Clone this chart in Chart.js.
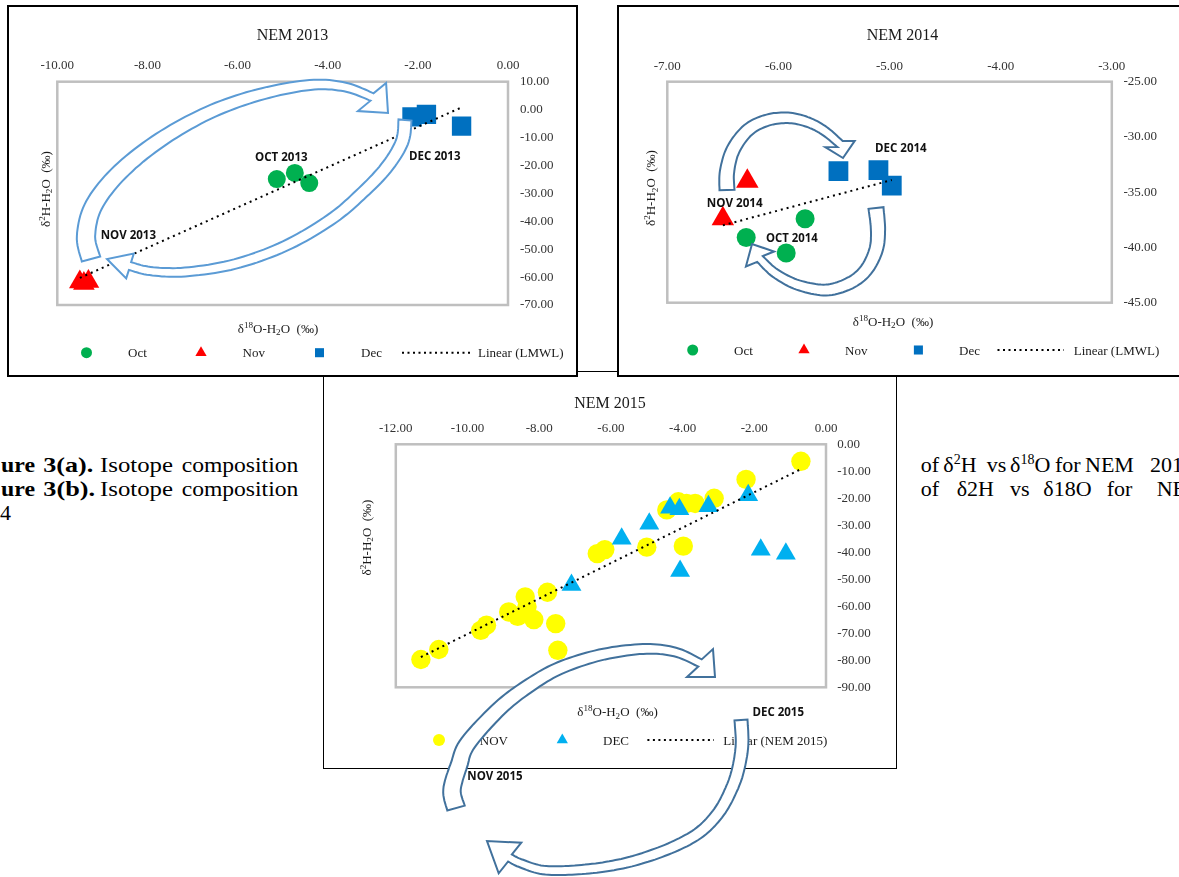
<!DOCTYPE html>
<html>
<head>
<meta charset="utf-8">
<script src="https://cdn.jsdelivr.net/npm/chart.js@4.4.0/dist/chart.umd.min.js"></script>
<style>
  html, body { margin: 0; padding: 0; background: #fff; }
  body { width: 1179px; height: 877px; overflow: hidden; position: relative; }
  .box { position: absolute; background: #fff; box-sizing: border-box; border: 2px solid #000; }
  #box1 { left: 7px; top: 5px; width: 571px; height: 372px; z-index: 2; }
  #box2 { left: 617px; top: 5px; width: 571px; height: 372px; z-index: 2; }
  #box3 { left: 323px; top: 371px; width: 574px; height: 398px; z-index: 1; border-width: 1px; }
  canvas { display: block; }
  svg { position: absolute; left: 0; top: 0; }
  #under { z-index: 0; }
  #over { z-index: 3; pointer-events: none; }
</style>
</head>
<body>
<svg id="under" width="1179" height="877"></svg>
<div class="box" id="box1"><canvas id="nem2013" width="567" height="368"></canvas></div>
<div class="box" id="box2"><canvas id="nem2014" width="567" height="368"></canvas></div>
<div class="box" id="box3"><canvas id="nem2015" width="572" height="396"></canvas></div>
<svg id="over" width="1179" height="877"></svg>
<script>
// NEM 2013 values
const oct2013X = [-5.13, -4.73, -4.41];
const oct2013Y = [-24.9, -22.7, -26.3];
const nov2013X = [-9.50, -9.41, -9.31];
const nov2013Y = [-61.8, -62.3, -61.6];
const dec2013X = [-2.13, -1.81, -1.03];
const dec2013Y = [-2.6, -1.7, -5.9];
const lmwl2013X = [-9.50, -1.03];
const lmwl2013Y = [-60.3, 0.8];
const ticks2013X = [-10, -8, -6, -4, -2, 0];
const ticks2013Y = [10, 0, -10, -20, -30, -40, -50, -60, -70];
const legend2013 = ["Oct", "Nov", "Dec", "Linear (LMWL)"];

// NEM 2014
const oct2014X = [-5.76, -6.29, -5.93];
const oct2014Y = [-37.4, -39.1, -40.5];
const nov2014X = [-6.28, -6.50];
const nov2014Y = [-34.0, -37.4];
const dec2014X = [-5.46, -5.10, -4.98];
const dec2014Y = [-33.1, -33.0, -34.4];
const lmwl2014X = [-6.50, -4.98];
const lmwl2014Y = [-38.0, -33.9];
const ticks2014X = [-7, -6, -5, -4, -3];
const ticks2014Y = [-25, -30, -35, -40, -45];
const legend2014 = ["Oct", "Nov", "Dec", "Linear (LMWL)"];

// NEM 2015
const nov2015X = [-0.70, -2.23, -4.44, -4.12, -3.89, -3.65, -3.12, -5.00, -3.98, -6.38, -6.17,
  -7.77, -8.39, -8.34, -8.85, -8.60, -8.15, -7.54, -9.47, -9.63, -7.48, -10.80, -11.30];
const nov2015Y = [-6.3, -13.0, -24.3, -21.3, -21.9, -21.9, -20.0, -38.1, -37.7, -40.5, -39.0,
  -54.8, -56.5, -60.2, -62.1, -63.7, -64.9, -66.4, -67.0, -68.9, -76.3, -76.0, -79.7];
const dec2015X = [-4.35, -4.09, -3.28, -2.17, -4.93, -5.70, -7.10, -4.07, -1.82, -1.12];
const dec2015Y = [-23.5, -24.1, -22.9, -18.9, -29.4, -35.0, -52.1, -46.9, -39.1, -40.5];
const lin2015X = [-11.30, -0.70];
const lin2015Y = [-78.8, -9.2];
const ticks2015X = [-12, -10, -8, -6, -4, -2, 0];
const ticks2015Y = [0, -10, -20, -30, -40, -50, -60, -70, -80, -90];
const legend2015 = ["NOV", "DEC", "Linear (NEM 2015)"];

const GREEN = "#00B050", RED = "#FF0000", BLUE = "#0070C0", YELLOW = "#FFFF00", CYAN = "#00B0F0";
const SERIF = "Liberation Serif";

function pts(xs, ys) {
  return xs.map((x, i) => ({ x: x, y: ys[i] }));
}

function pointSet(label, xs, ys, style, color, r, order) {
  return {
    label: label, data: pts(xs, ys), pointStyle: style,
    backgroundColor: color, borderColor: color, pointRadius: r,
    pointBorderWidth: 0, borderWidth: 0, showLine: false, order: order
  };
}

function trendSet(label, xs, ys) {
  return {
    label: label, data: pts(xs, ys), showLine: true, borderColor: "#000",
    borderWidth: 2, borderDash: [2, 4], pointRadius: 0, fill: false, order: 0
  };
}

// draw text with super/subscripts, centred on x
function rich(ctx, parts, x, y, size) {
  let w = 0;
  parts.forEach(p => {
    ctx.font = (p[1] ? size * 0.7 : size) + "px '" + SERIF + "'";
    p.w = ctx.measureText(p[0]).width;
    w += p.w;
  });
  let cx = x - w / 2;
  parts.forEach(p => {
    ctx.font = (p[1] ? size * 0.7 : size) + "px '" + SERIF + "'";
    const dy = p[1] === "sup" ? -size * 0.38 : p[1] === "sub" ? size * 0.22 : 0;
    ctx.fillText(p[0], cx, y + size * 0.35 + dy);
    cx += p.w;
  });
}

function marker(ctx, style, x, y, r, color) {
  ctx.fillStyle = color;
  ctx.beginPath();
  if (style === "circle") {
    ctx.arc(x, y, r, 0, Math.PI * 2);
  } else if (style === "triangle") {
    ctx.moveTo(x, y - r);
    ctx.lineTo(x + r * 0.866, y + r / 2);
    ctx.lineTo(x - r * 0.866, y + r / 2);
    ctx.closePath();
  } else {
    const s = r * Math.SQRT1_2;
    ctx.rect(x - s, y - s, 2 * s, 2 * s);
  }
  ctx.fill();
}

// frame, titles and the Excel-style legend
function decoPlugin(cfg) {
  return {
    id: "deco",
    beforeDatasetsDraw(chart) {
      const a = chart.chartArea, ctx = chart.ctx;
      ctx.save();
      ctx.strokeStyle = "#BFBFBF";
      ctx.lineWidth = 2.5;
      ctx.strokeRect(a.left, a.top, a.right - a.left, a.bottom - a.top);
      ctx.restore();
    },
    afterDraw(chart) {
      const ctx = chart.ctx;
      ctx.save();
      ctx.fillStyle = "#1a1a1a";
      ctx.textAlign = "left";
      ctx.textBaseline = "alphabetic";
      rich(ctx, [[cfg.title]], chart.width / 2, cfg.titleY, 16);
      const xt = [["δ"], ["18", "sup"], ["O-H"], ["2", "sub"], ["O  (‰)"]];
      const yt = [["δ"], ["2", "sup"], ["H-H"], ["2", "sub"], ["O  (‰)"]];
      rich(ctx, xt, cfg.xTitle[0], cfg.xTitle[1], 13);
      ctx.save();
      ctx.translate(cfg.yTitle[0], cfg.yTitle[1]);
      ctx.rotate(-Math.PI / 2);
      rich(ctx, yt, 0, 0, 13);
      ctx.restore();
      const ly = cfg.legendY;
      cfg.legend.forEach(it => {
        if (it.style === "line") {
          ctx.save();
          ctx.strokeStyle = "#000";
          ctx.lineWidth = 2;
          ctx.setLineDash([2, 3.5]);
          ctx.beginPath();
          ctx.moveTo(it.x[0], ly);
          ctx.lineTo(it.x[1], ly);
          ctx.stroke();
          ctx.restore();
        } else {
          marker(ctx, it.style, it.x, ly, it.r, it.color);
        }
        ctx.fillStyle = "#1a1a1a";
        ctx.font = "13px '" + SERIF + "'";
        ctx.fillText(it.label, it.tx, ly + 4.5);
      });
      ctx.restore();
    }
  };
}

function axis(pos, tickList, pad, size) {
  return {
    type: "linear", position: pos,
    min: Math.min(...tickList), max: Math.max(...tickList),
    afterBuildTicks: a => { a.ticks = tickList.map(v => ({ value: v })); },
    afterFit: a => { if (pos === "top") a.height = size; else a.width = size; },
    grid: { display: false, drawTicks: false },
    border: { display: false },
    ticks: {
      padding: pad, color: "#333", autoSkip: false, maxRotation: 0,
      font: { family: SERIF, size: 13 },
      callback: v => v.toFixed(2)
    }
  };
}

function makeChart(id, datasets, xTicks, yTicks, padding, xPad, yPad, deco) {
  return new Chart(document.getElementById(id), {
    type: "scatter",
    data: { datasets: datasets },
    options: {
      responsive: false, animation: false, events: [],
      layout: { padding: padding },
      plugins: { legend: { display: false }, tooltip: { enabled: false } },
      scales: { x: axis("top", xTicks, xPad, 24), y: axis("right", yTicks, yPad, 60) }
    },
    plugins: [decoPlugin(deco)]
  });
}

makeChart("nem2013", [
  trendSet(legend2013[3], lmwl2013X, lmwl2013Y),
  pointSet(legend2013[2], dec2013X, dec2013Y, "rect", BLUE, 13.7, 1),
  pointSet(legend2013[1], nov2013X, nov2013Y, "triangle", RED, 12.5, 2),
  pointSet(legend2013[0], oct2013X, oct2013Y, "circle", GREEN, 9, 3)
], ticks2013X, ticks2013Y, { left: 48.3, top: 50.7, right: 8, bottom: 70 }, 8, 12, {
  title: "NEM 2013", titleY: 27.3, xTitle: [269, 321], yTitle: [36, 182], legendY: 345.7,
  legend: [
    { style: "circle", color: GREEN, r: 5.5, x: 77.5, tx: 119, label: legend2013[0] },
    { style: "triangle", color: RED, r: 6.5, x: 192, tx: 233.5, label: legend2013[1] },
    { style: "rect", color: BLUE, r: 6.4, x: 310.5, tx: 352, label: legend2013[2] },
    { style: "line", x: [393, 461], tx: 469, label: legend2013[3] }
  ]
});

makeChart("nem2014", [
  trendSet(legend2014[3], lmwl2014X, lmwl2014Y),
  pointSet(legend2014[2], dec2014X, dec2014Y, "rect", BLUE, 14, 1),
  pointSet(legend2014[1], nov2014X, nov2014Y, "triangle", RED, 13, 2),
  pointSet(legend2014[0], oct2014X, oct2014Y, "circle", GREEN, 9.5, 3)
], ticks2014X, ticks2014Y, { left: 48.3, top: 50.7, right: 14.2, bottom: 72.3 }, 7, 11.6, {
  title: "NEM 2014", titleY: 27.3, xTitle: [274, 314], yTitle: [31.6, 181], legendY: 343,
  legend: [
    { style: "circle", color: GREEN, r: 5.5, x: 73.7, tx: 115, label: legend2014[0] },
    { style: "triangle", color: RED, r: 6.5, x: 185, tx: 226, label: legend2014[1] },
    { style: "rect", color: BLUE, r: 6.4, x: 299.4, tx: 340, label: legend2014[2] },
    { style: "line", x: [378.5, 445], tx: 454.7, label: legend2014[3] }
  ]
});

makeChart("nem2015", [
  trendSet(legend2015[2], lin2015X, lin2015Y),
  pointSet(legend2015[1], dec2015X, dec2015Y, "triangle", CYAN, 11.5, 1),
  pointSet(legend2015[0], nov2015X, nov2015Y, "circle", YELLOW, 9.7, 2)
], ticks2015X, ticks2015Y, { left: 71.8, top: 48.3, right: 10, bottom: 80.7 }, 7.5, 11.2, {
  title: "NEM 2015", titleY: 30.7, xTitle: [293.5, 339.7], yTitle: [42, 165.5], legendY: 368,
  legend: [
    { style: "circle", color: YELLOW, r: 6, x: 115, tx: 155.8, label: legend2015[0] },
    { style: "triangle", color: CYAN, r: 6.5, x: 238.3, tx: 279, label: legend2015[1] },
    { style: "line", x: [323.4, 390], tx: 399.3, label: legend2015[2] }
  ]
});

// ---- page furniture: caption text behind, arrows and labels on top ----
const NS = "http://www.w3.org/2000/svg";
function el(parent, tag, attrs, text) {
  const e = document.createElementNS(NS, tag);
  Object.keys(attrs).forEach(k => e.setAttribute(k, attrs[k]));
  if (text !== undefined) e.textContent = text;
  parent.appendChild(e);
  return e;
}

const under = document.getElementById("under");
const captionWords = [
  ["ure", 1, 471.7, 34, true], ["3(a).", 43.3, 471.7, 50, true], ["Isotope", 100, 471.7, 73], ["composition", 181.7, 471.7, 116.6],
  ["ure", 1, 496, 34, true], ["3(b).", 43.3, 496, 51.7, true], ["Isotope", 100, 496, 73], ["composition", 181.7, 496, 116.6],
  ["4", 0, 520],
  ["of", 920.7, 471.7], ["vs", 986.7, 471.7], ["for", 1055, 471.7], ["NEM", 1085, 471.7], ["2013", 1150, 471.7],
  ["of", 920.7, 496], ["δ2H", 956.7, 496], ["vs", 1010, 496], ["δ18O", 1043.3, 496], ["for", 1106.7, 496], ["NEM", 1156.7, 496]
];
captionWords.forEach(w => {
  const a = { x: w[1], y: w[2], "font-family": SERIF, "font-size": 22, fill: "#000" };
  if (w[3]) { a.textLength = w[3]; a.lengthAdjust = "spacingAndGlyphs"; }
  if (w[4]) a["font-weight"] = "bold";
  el(under, "text", a, w[0]);
});
// words with superscripts
[["2", "H", 943.3], ["18", "O", 1010]].forEach(s => {
  const t = el(under, "text", { x: s[2], y: 471.7, "font-family": SERIF, "font-size": 22, fill: "#000" }, "δ");
  el(t, "tspan", { dy: -8, "font-size": 14 }, s[0]);
  el(t, "tspan", { dy: 8 }, s[1]);
});

function catmull(p, seg) {
  const out = [];
  for (let i = 0; i < p.length - 1; i++) {
    const p0 = p[Math.max(i - 1, 0)], p1 = p[i], p2 = p[i + 1], p3 = p[Math.min(i + 2, p.length - 1)];
    for (let s = 0; s < seg; s++) {
      const t = s / seg, t2 = t * t, t3 = t2 * t;
      out.push([0, 1].map(k => 0.5 * (2 * p1[k] + (-p0[k] + p2[k]) * t +
        (2 * p0[k] - 5 * p1[k] + 4 * p2[k] - p3[k]) * t2 + (-p0[k] + 3 * p1[k] - 3 * p2[k] + p3[k]) * t3)));
    }
  }
  out.push(p[p.length - 1]);
  return out;
}

// curved block arrow: a tapering band along a spline, then a triangular head
function curvedArrow(svg, a) {
  const c = catmull(a.path, 10);
  const L = [0];
  for (let i = 1; i < c.length; i++) L.push(L[i - 1] + Math.hypot(c[i][0] - c[i - 1][0], c[i][1] - c[i - 1][1]));
  const total = L[L.length - 1];
  const left = [], right = [];
  c.forEach((p, i) => {
    const q0 = c[Math.max(i - 1, 0)], q1 = c[Math.min(i + 1, c.length - 1)];
    let tx = q1[0] - q0[0], ty = q1[1] - q0[1];
    const tl = Math.hypot(tx, ty); tx /= tl; ty /= tl;
    const w = (a.w0 + (a.w1 - a.w0) * L[i] / total) / 2;
    left.push([p[0] - ty * w, p[1] + tx * w]);
    right.push([p[0] + ty * w, p[1] - tx * w]);
  });
  const base = c[c.length - 1];
  let hx = a.tip[0] - base[0], hy = a.tip[1] - base[1];
  const hl = Math.hypot(hx, hy); hx /= hl; hy /= hl;
  let px = -hy, py = hx;
  const lastL = left[left.length - 1];
  if ((lastL[0] - base[0]) * px + (lastL[1] - base[1]) * py < 0) { px = -px; py = -py; }
  const hw = a.headW / 2;
  const b1 = [base[0] + px * hw, base[1] + py * hw], b2 = [base[0] - px * hw, base[1] - py * hw];
  const poly = left.concat([b1, a.tip, b2], right.reverse());
  const d = "M" + poly.map(p => p[0].toFixed(1) + "," + p[1].toFixed(1)).join("L") + "Z";
  el(svg, "path", { d: d, fill: "#fff", stroke: a.color, "stroke-width": 2, "stroke-linejoin": "miter" });
}

const over = document.getElementById("over");
const LIGHT = "#5B9BD5", DARK = "#41719C";
const arrows = [
  { color: LIGHT, w0: 19, w1: 8, headW: 40, tip: [388, 113],
    path: [[91, 259], [86, 236], [94, 205], [120, 172], [160, 140], [208, 113], [258, 95], [310, 85], [345, 87], [372, 97]] },
  { color: LIGHT, w0: 13, w1: 8, headW: 26, tip: [107, 259],
    path: [[405, 120], [402, 142], [386, 168], [360, 195], [330, 220], [285, 246], [235, 264], [185, 272], [150, 271], [130, 266]] },
  { color: DARK, w0: 15, w1: 8, headW: 30, tip: [843, 158],
    path: [[727, 190], [727, 172], [733, 150], [748, 130], [768, 120], [790, 118], [810, 123], [826, 132], [840, 144]] },
  { color: DARK, w0: 15, w1: 8, headW: 32, tip: [752, 244],
    path: [[876, 208], [878, 230], [876, 250], [866, 270], [850, 283], [826, 290], [798, 285], [775, 273], [760, 259]] },
  { color: DARK, w0: 18, w1: 8, headW: 38, tip: [715, 677],
    path: [[456, 808], [452, 790], [459, 765], [468, 743], [500, 708], [530, 685], [560, 668], [600, 655], [643, 649], [675, 652], [700, 663]] },
  { color: DARK, w0: 13, w1: 8, headW: 38, tip: [487, 841],
    path: [[741, 720], [742, 745], [738, 770], [731, 790], [719, 812], [700, 832], [673, 847], [640, 859], [610, 866], [575, 870], [543, 870], [520, 863], [510, 858]] }
];
arrows.forEach(a => curvedArrow(over, a));

const monthLabels = [
  ["OCT 2013", 255, 156.7, 52.7], ["NOV 2013", 100.7, 234, 55.3], ["DEC 2013", 409, 155.7, 51.5],
  ["DEC 2014", 875, 147.3, 51.7], ["NOV 2014", 706.7, 202.7, 56], ["OCT 2014", 766, 237.7, 51.7],
  ["DEC 2015", 752.5, 711.7, 51.5], ["NOV 2015", 467.3, 775.7, 55.3]
];
monthLabels.forEach(m => {
  el(over, "text", { x: m[1], y: m[2], "dominant-baseline": "central", "font-family": "Open Sans",
    "font-weight": "bold", "font-size": 11.5, fill: "#111", textLength: m[3], lengthAdjust: "spacingAndGlyphs" }, m[0]);
});
</script>
</body>
</html>
